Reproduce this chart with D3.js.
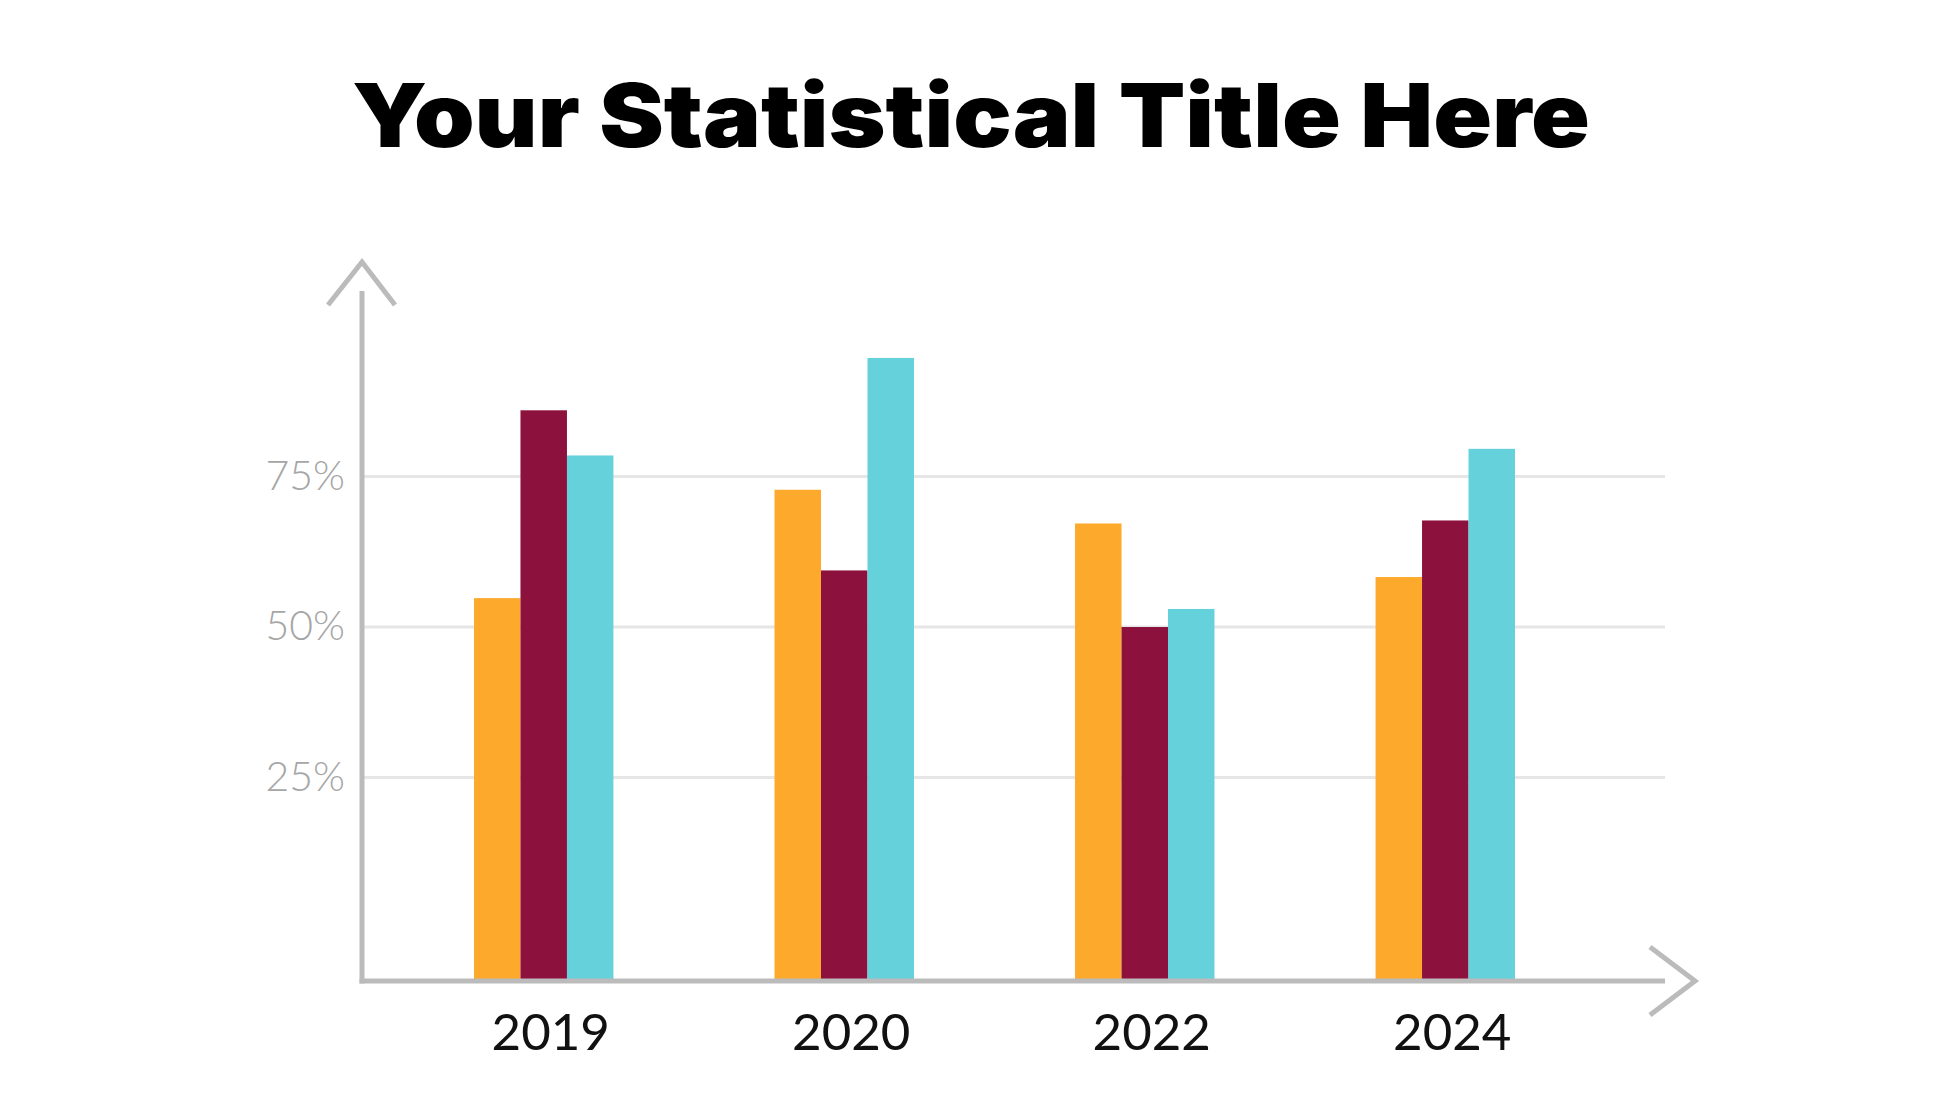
<!DOCTYPE html>
<html>
<head>
<meta charset="utf-8">
<script src="https://cdn.jsdelivr.net/npm/d3@7"></script>
<style>
  html, body { margin: 0; padding: 0; background: #fff; }
  svg { display: block; }
</style>
</head>
<body>
<div id="chart"></div>
<script>
// data
const years = ['2019', '2020', '2022', '2024'];
const seriesNames = ['A', 'B', 'C'];
const seriesA = [54.7, 72.7, 67.1, 58.2];
const seriesB = [85.9, 59.3, 49.9, 67.6];
const seriesC = [78.4, 94.6, 52.9, 79.5];
const yTicks = [25, 50, 75];
const colors = ['#FDA92B', '#8C113C', '#65D1DB'];
const title = 'Your Statistical Title Here';

const width = 1946;
const height = 1095;

// plot frame
const frame = { left: 362, right: 1665, top: 291, bottom: 981 };

const svg = d3.select('#chart').append('svg')
  .attr('width', width)
  .attr('height', height)
  .attr('viewBox', `0 0 ${width} ${height}`);

// title
svg.append('text')
  .attr('x', 971)
  .attr('y', 147)
  .attr('text-anchor', 'middle')
  .attr('textLength', 1238)
  .attr('lengthAdjust', 'spacingAndGlyphs')
  .style('font-family', 'Inter, "Open Sans", sans-serif')
  .style('font-weight', 900)
  .style('font-size', '88px')
  .style('fill', '#000')
  .text(title);

// scales
const x0 = d3.scaleBand()
  .domain(years)
  .range([474, 1515])
  .paddingInner(0.536)
  .paddingOuter(0);

const x1 = d3.scaleBand()
  .domain(seriesNames)
  .range([0, x0.bandwidth()])
  .padding(0);

// baseline sits a bit below zero in the original
const y = d3.scaleLinear()
  .domain([-8.9, 100])
  .range([frame.bottom, frame.bottom - 108.9 * 6.02]);

const table = years.map((yr, i) => ({
  year: yr,
  values: [seriesA[i], seriesB[i], seriesC[i]].map((v, j) => ({ key: seriesNames[j], value: v }))
}));

// gridlines + y labels
const yAxisG = svg.append('g')
  .attr('transform', `translate(${frame.left},0)`)
  .call(d3.axisLeft(y)
    .tickValues(yTicks)
    .tickSizeInner(-(frame.right - frame.left))
    .tickSizeOuter(0)
    .tickPadding(17)
    .tickFormat(d => d + '%'));
yAxisG.select('.domain').remove();
yAxisG.selectAll('line')
  .attr('stroke', '#E6E6E6')
  .attr('stroke-width', 3);
yAxisG.selectAll('text')
  .style('font-family', 'Lato, "Open Sans", sans-serif')
  .style('font-weight', 300)
  .style('font-size', '41px')
  .attr('fill', '#A6A6A6');

// bars
const groups = svg.append('g')
  .selectAll('g')
  .data(table)
  .join('g')
  .attr('transform', d => `translate(${x0(d.year)},0)`);

groups.selectAll('rect')
  .data(d => d.values)
  .join('rect')
  .attr('x', d => x1(d.key))
  .attr('width', x1.bandwidth())
  .attr('y', d => y(d.value))
  .attr('height', d => y.range()[0] - y(d.value))
  .attr('fill', (d, i) => colors[i]);

// x labels
const xAxisG = svg.append('g')
  .attr('transform', `translate(0,${frame.bottom})`)
  .call(d3.axisBottom(x0).tickSize(0).tickPadding(33));
xAxisG.select('.domain').remove();
xAxisG.selectAll('text')
  .attr('dx', 7)
  .style('font-family', 'Lato, "Open Sans", sans-serif')
  .style('font-weight', 400)
  .style('font-size', '51px')
  .attr('fill', '#111');

// axis lines with open arrow heads
const axisColor = '#BBBBBB';
svg.append('path')
  .attr('d', `M${frame.left},${frame.top} V${frame.bottom + 2.5}`)
  .attr('stroke', axisColor)
  .attr('stroke-width', 5)
  .attr('fill', 'none');
svg.append('path')
  .attr('d', `M${frame.left - 2.5},${frame.bottom} H${frame.right}`)
  .attr('stroke', axisColor)
  .attr('stroke-width', 5)
  .attr('fill', 'none');

// arrow heads
svg.append('path')
  .attr('d', `M${frame.left - 34},${frame.top + 14} L${frame.left},${frame.top - 29} L${frame.left + 33},${frame.top + 14}`)
  .attr('stroke', axisColor)
  .attr('stroke-width', 5)
  .attr('fill', 'none');
svg.append('path')
  .attr('d', `M${frame.right - 15},${frame.bottom - 34} L${frame.right + 30},${frame.bottom} L${frame.right - 15},${frame.bottom + 34}`)
  .attr('stroke', axisColor)
  .attr('stroke-width', 5)
  .attr('fill', 'none');
</script>
</body>
</html>
